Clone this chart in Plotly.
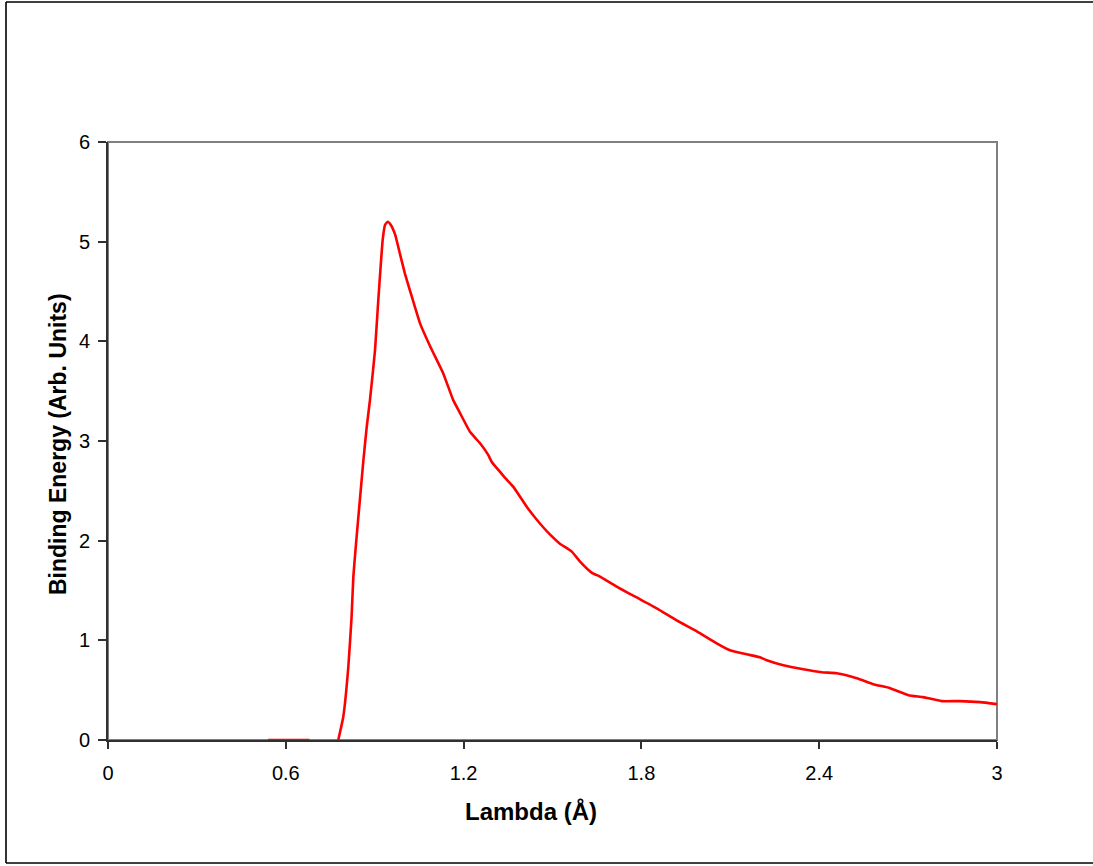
import plotly.graph_objects as go

# ---- data ----
lambda_vals = [0.54, 0.68, None,
               0.777, 0.794, 0.811, 0.822, 0.828, 0.837, 0.850, 0.862, 0.873, 0.884,
               0.901, 0.912, 0.920, 0.927, 0.935, 0.944, 0.954, 0.969, 0.985, 1.002,
               1.025, 1.053, 1.087, 1.131, 1.165, 1.188, 1.222, 1.255, 1.283, 1.295,
               1.323, 1.340, 1.368, 1.413, 1.447, 1.492, 1.525, 1.565, 1.593, 1.632,
               1.660, 1.677, 1.728, 1.784, 1.852, 1.919, 1.987, 2.054, 2.099, 2.155,
               2.200, 2.223, 2.279, 2.346, 2.408, 2.459, 2.527, 2.583, 2.639, 2.701,
               2.751, 2.813, 2.875, 2.943, 3.000]
energy_vals = [0.0, 0.0, None,
               0.0, 0.234, 0.735, 1.237, 1.64, 1.97, 2.41, 2.81, 3.14, 3.41,
               3.91, 4.41, 4.75, 5.02, 5.17, 5.20, 5.17, 5.07, 4.88, 4.68,
               4.45, 4.18, 3.95, 3.68, 3.41, 3.28, 3.09, 2.98, 2.86, 2.79,
               2.69, 2.63, 2.54, 2.34, 2.21, 2.06, 1.97, 1.89, 1.79, 1.68,
               1.64, 1.61, 1.52, 1.43, 1.32, 1.20, 1.09, 0.97, 0.90, 0.86,
               0.83, 0.80, 0.75, 0.71, 0.68, 0.67, 0.62, 0.56, 0.52, 0.45,
               0.43, 0.39, 0.39, 0.38, 0.36]

x_tickvals = [0, 0.6, 1.2, 1.8, 2.4, 3]
x_ticktext = ["0", "0.6", "1.2", "1.8", "2.4", "3"]
y_tickvals = [0, 1, 2, 3, 4, 5, 6]
y_ticktext = ["0", "1", "2", "3", "4", "5", "6"]

x_title = "Lambda (Å)"
y_title = "Binding Energy (Arb. Units)"

W, H = 1093, 866
L, R, T, B = 108, 96, 142, 126
pw, ph = W - L - R, H - T - B

def px_x(p):
    return (p - L) / pw

def px_y(p):
    return (H - B - p) / ph

fig = go.Figure()
fig.add_trace(go.Scatter(
    x=lambda_vals, y=energy_vals, mode="lines",
    line=dict(color="#FF0000", width=2.6, shape="spline", smoothing=0.4),
    connectgaps=False, cliponaxis=False, showlegend=False,
))

font_family = "Arial, 'Liberation Sans', sans-serif"

# outer chart frame: left, top and bottom edges only
fx0, fx1 = px_x(6), px_x(1093)
fy0, fy1 = px_y(863), px_y(2)
frame_line = dict(color="black", width=1.6)
frame_shapes = [
    dict(type="line", xref="paper", yref="paper", x0=fx0, x1=fx1, y0=fy1, y1=fy1,
         line=frame_line, layer="below"),
    dict(type="line", xref="paper", yref="paper", x0=fx0, x1=fx1, y0=fy0, y1=fy0,
         line=frame_line, layer="below"),
    dict(type="line", xref="paper", yref="paper", x0=fx0, x1=fx0, y0=fy0, y1=fy1,
         line=frame_line, layer="below"),
]

fig.update_layout(
    width=W, height=H,
    margin=dict(l=L, r=R, t=T, b=B, pad=0),
    paper_bgcolor="white", plot_bgcolor="white",
    font=dict(family=font_family, color="black", size=20),
    showlegend=False,
    shapes=[
        # plot-area border (gray)
        dict(type="rect", xref="paper", yref="paper", x0=0, y0=0, x1=1, y1=1,
             line=dict(color="#808080", width=2), layer="below"),
    ] + frame_shapes,
    annotations=[
        dict(text="<b>" + x_title + "</b>", xref="paper", yref="paper",
             x=px_x(531), y=px_y(811), xanchor="center", yanchor="middle",
             showarrow=False, font=dict(size=24, family=font_family, color="black")),
        dict(text="<b>" + y_title + "</b>", xref="paper", yref="paper",
             x=px_x(58), y=px_y(444), xanchor="center", yanchor="middle",
             textangle=-90, showarrow=False,
             font=dict(size=23, family=font_family, color="black")),
    ],
)

fig.update_xaxes(
    range=[0, 3], tickvals=x_tickvals, ticktext=x_ticktext,
    showgrid=False, zeroline=False,
    showline=True, linecolor="#303030", linewidth=2,
    ticks="outside", ticklen=7, tickwidth=1.5, tickcolor="#303030",
    ticklabelstandoff=7, layer="below traces",
    tickfont=dict(size=20, color="black"),
)
fig.update_yaxes(
    range=[0, 6], tickvals=y_tickvals, ticktext=y_ticktext,
    showgrid=False, zeroline=False,
    showline=True, linecolor="#303030", linewidth=2,
    ticks="outside", ticklen=8, tickwidth=1.5, tickcolor="#303030",
    ticklabelstandoff=4, layer="below traces",
    tickfont=dict(size=20, color="black"),
)

fig.write_html(
    "out.html",
    config={"displayModeBar": False},
    post_script="document.body.style.margin='0';document.body.style.overflow='hidden';",
)
